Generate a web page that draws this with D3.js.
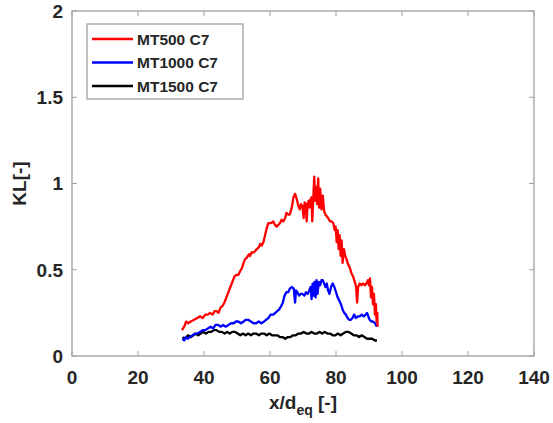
<!DOCTYPE html>
<html>
<head>
<meta charset="utf-8">
<script src="https://cdn.jsdelivr.net/npm/d3@7"></script>
<style>
  body { margin: 0; background: #fff; }
  text { font-family: "Liberation Sans", Arial, sans-serif; font-weight: bold; fill: #262626; }
</style>
</head>
<body>
<div id="chart"></div>
<script>
// series: [x/deq, KL]
const seriesNames = ["MT500 C7", "MT1000 C7", "MT1500 C7"]
const seriesColors = ["#ff0000", "#0000ff", "#000000"]

const mt500 = [
  [33.3,0.15],[34.0,0.17],[34.6,0.20],[35.2,0.19],[36.0,0.20],[37.0,0.21],[38.0,0.22],[38.8,0.23],
  [39.6,0.22],[40.4,0.24],[41.2,0.24],[41.8,0.25],[42.6,0.24],[43.2,0.26],[43.8,0.26],[44.4,0.25],
  [45.0,0.28],[45.6,0.29],[46.2,0.31],[46.8,0.34],[47.4,0.37],[48.0,0.40],[48.6,0.43],[49.2,0.46],
  [49.8,0.47],[50.4,0.47],[50.9,0.49],[51.5,0.51],[52.0,0.54],[52.4,0.56],[53.0,0.57],[53.6,0.59],
  [54.0,0.58],[54.4,0.60],[55.0,0.60],[55.6,0.61],[56.0,0.62],[56.6,0.63],[57.0,0.65],[57.5,0.64],
  [58.0,0.66],[58.5,0.70],[59.0,0.74],[59.5,0.77],[60.2,0.77],[61.0,0.78],[61.5,0.76],[62.0,0.75],
  [62.5,0.76],[63.0,0.77],[63.5,0.79],[64.0,0.78],[64.6,0.80],[65.0,0.83],[65.5,0.82],[66.0,0.82],
  [66.6,0.86],[67.1,0.92],[67.6,0.94],[68.1,0.91],[68.6,0.87],[69.0,0.85],[69.4,0.88],[69.8,0.87],
  [70.2,0.80],[70.5,0.89],[70.9,0.88],[71.1,0.78],[71.4,0.88],[71.7,0.90],[72.0,0.86],[72.3,0.91],
  [72.6,0.92],[72.8,0.78],[73.1,0.90],[73.4,1.04],[73.7,0.90],[74.0,0.98],[74.3,0.88],[74.6,1.03],
  [74.9,0.86],[75.2,0.97],[75.6,0.85],[76.0,0.93],[76.4,0.84],[76.8,0.82],[77.2,0.81],[77.6,0.80],
  [78.2,0.78],[78.7,0.78],[79.2,0.77],[79.6,0.73],[79.9,0.75],[80.2,0.66],[80.5,0.73],[80.8,0.62],
  [81.1,0.70],[81.4,0.58],[81.7,0.67],[82.0,0.54],[82.4,0.62],[82.8,0.58],[83.2,0.56],[83.7,0.53],
  [84.2,0.51],[84.7,0.48],[85.2,0.46],[85.7,0.43],[86.1,0.40],[86.4,0.31],[86.7,0.40],[87.2,0.42],
  [87.7,0.41],[88.2,0.42],[88.8,0.41],[89.2,0.42],[89.7,0.44],[90.0,0.41],[90.3,0.45],[90.6,0.34],
  [90.9,0.40],[91.2,0.30],[91.5,0.36],[91.8,0.24],[92.1,0.30],[92.3,0.20],[92.5,0.25],[92.6,0.17]
]

const mt1000 = [
  [33.5,0.10],[34.0,0.09],[34.5,0.11],[35.0,0.10],[35.8,0.11],[36.5,0.12],[37.2,0.13],[38.0,0.13],
  [38.8,0.14],[39.6,0.15],[40.4,0.15],[41.2,0.16],[42.0,0.17],[42.8,0.16],[43.5,0.18],[44.3,0.18],
  [45.0,0.17],[45.8,0.18],[46.6,0.17],[47.4,0.18],[48.2,0.19],[49.0,0.19],[49.7,0.20],[50.4,0.20],
  [51.2,0.19],[52.0,0.20],[52.7,0.21],[53.4,0.21],[54.2,0.20],[55.0,0.19],[55.8,0.19],[56.6,0.20],
  [57.4,0.19],[58.2,0.20],[58.8,0.21],[59.5,0.22],[60.2,0.24],[61.0,0.24],[61.6,0.25],[62.2,0.26],
  [62.8,0.27],[63.4,0.29],[63.9,0.31],[64.4,0.35],[65.0,0.37],[65.5,0.37],[66.0,0.39],[66.6,0.40],
  [67.2,0.39],[67.6,0.31],[67.9,0.38],[68.3,0.37],[68.8,0.35],[69.3,0.36],[69.8,0.36],[70.4,0.35],
  [70.9,0.37],[71.4,0.36],[71.9,0.38],[72.3,0.40],[72.6,0.33],[72.9,0.42],[73.2,0.35],[73.5,0.43],
  [73.8,0.34],[74.1,0.44],[74.4,0.36],[74.8,0.43],[75.2,0.41],[75.6,0.44],[76.0,0.44],[76.4,0.42],
  [76.8,0.40],[77.2,0.42],[77.6,0.38],[78.0,0.36],[78.5,0.40],[79.0,0.42],[79.5,0.40],[80.0,0.37],
  [80.5,0.34],[81.0,0.32],[81.5,0.30],[82.0,0.27],[82.5,0.25],[83.0,0.24],[83.5,0.22],[84.0,0.21],
  [84.5,0.21],[85.0,0.22],[85.5,0.24],[86.0,0.22],[86.6,0.23],[87.2,0.23],[87.8,0.24],[88.4,0.23],
  [89.0,0.24],[89.4,0.25],[89.8,0.23],[90.2,0.21],[90.7,0.20],[91.2,0.20],[91.8,0.19],[92.4,0.17]
]

const mt1500 = [
  [33.5,0.11],[34.0,0.10],[34.6,0.11],[35.2,0.12],[36.0,0.11],[36.8,0.12],[37.5,0.13],[38.2,0.12],
  [39.0,0.13],[39.8,0.14],[40.6,0.13],[41.4,0.14],[42.2,0.14],[43.0,0.15],[43.8,0.15],[44.6,0.14],
  [45.4,0.14],[46.2,0.13],[47.0,0.14],[47.8,0.13],[48.6,0.14],[49.4,0.14],[50.2,0.13],[51.0,0.12],
  [51.8,0.13],[52.6,0.12],[53.4,0.13],[54.2,0.12],[55.0,0.13],[55.8,0.13],[56.6,0.12],[57.4,0.13],
  [58.2,0.13],[59.0,0.12],[59.8,0.13],[60.6,0.12],[61.4,0.12],[62.2,0.12],[63.0,0.11],[63.8,0.11],
  [64.6,0.10],[65.4,0.11],[66.2,0.11],[67.0,0.12],[67.8,0.12],[68.6,0.13],[69.4,0.13],[70.2,0.14],
  [71.0,0.13],[71.8,0.13],[72.6,0.14],[73.4,0.13],[74.2,0.13],[75.0,0.14],[75.8,0.13],[76.6,0.14],
  [77.4,0.13],[78.2,0.13],[79.0,0.12],[79.8,0.12],[80.6,0.13],[81.4,0.12],[82.2,0.13],[83.0,0.14],
  [83.8,0.14],[84.6,0.13],[85.4,0.12],[86.2,0.12],[87.0,0.11],[87.8,0.12],[88.6,0.11],[89.4,0.10],
  [90.2,0.10],[91.0,0.10],[91.8,0.09],[92.4,0.09]
]

const xTicks = [0, 20, 40, 60, 80, 100, 120, 140]
const yTicks = [0, 0.5, 1, 1.5, 2]

// layout
const W = 553, H = 423
const margin = { left: 72, top: 11, right: 19, bottom: 67 }
const width = W - margin.left - margin.right
const height = H - margin.top - margin.bottom
const axisColor = "#a0a0a0"

const svg = d3.select("#chart").append("svg")
    .attr("width", W)
    .attr("height", H)

const g = svg.append("g")
    .attr("transform", "translate(" + margin.left + "," + margin.top + ")")

const x = d3.scaleLinear().domain([0, 140]).range([0, width])
const y = d3.scaleLinear().domain([0, 2]).range([height, 0])

// box
g.append("rect")
    .attr("width", width)
    .attr("height", height)
    .attr("fill", "none")
    .attr("stroke", axisColor)
    .attr("stroke-width", 1.3)

// ticks on all four sides, pointing in
const tickLen = 5
g.selectAll(".xt").data(xTicks).enter().append("path")
    .attr("d", d => "M" + x(d) + "," + height + "v" + (-tickLen) + "M" + x(d) + ",0v" + tickLen)
    .attr("stroke", axisColor)
g.selectAll(".yt").data(yTicks).enter().append("path")
    .attr("d", d => "M0," + y(d) + "h" + tickLen + "M" + width + "," + y(d) + "h" + (-tickLen))
    .attr("stroke", axisColor)

// tick labels
g.selectAll(".xl").data(xTicks).enter().append("text")
    .attr("x", d => x(d))
    .attr("y", height + 28)
    .attr("text-anchor", "middle")
    .style("font-size", "19px")
    .text(d => d)
g.selectAll(".yl").data(yTicks).enter().append("text")
    .attr("x", -9)
    .attr("y", d => y(d))
    .attr("dy", "0.36em")
    .attr("text-anchor", "end")
    .style("font-size", "19px")
    .text(d => d)

// axis titles
const xt = g.append("text")
    .attr("x", width / 2)
    .attr("y", height + 53)
    .attr("text-anchor", "middle")
    .style("font-size", "19px")
xt.append("tspan").text("x/d")
xt.append("tspan").attr("dy", 6).style("font-size", "14px").text("eq")
xt.append("tspan").attr("dy", -6).text(" [-]")

g.append("text")
    .attr("transform", "translate(-46," + (height / 2) + ") rotate(-90)")
    .attr("text-anchor", "middle")
    .style("font-size", "19px")
    .text("KL[-]")

// lines
const line = d3.line().x(d => x(d[0])).y(d => y(d[1]))
const allSeries = [mt1500, mt1000, mt500]
const allColors = [seriesColors[2], seriesColors[1], seriesColors[0]]
g.selectAll(".series").data(allSeries).enter().append("path")
    .attr("d", line)
    .attr("fill", "none")
    .attr("stroke", (d, i) => allColors[i])
    .attr("stroke-width", 2.3)
    .attr("stroke-linejoin", "round")

// legend
const lg = g.append("g").attr("transform", "translate(15,13)")
lg.append("rect")
    .attr("width", 156)
    .attr("height", 75)
    .attr("fill", "#fff")
    .attr("stroke", axisColor)
    .attr("stroke-width", 1.3)
seriesNames.forEach(function(name, i) {
  const yy = 15 + i * 23.5
  lg.append("line")
      .attr("x1", 5).attr("x2", 46)
      .attr("y1", yy).attr("y2", yy)
      .attr("stroke", seriesColors[i])
      .attr("stroke-width", 2.3)
  lg.append("text")
      .attr("x", 50)
      .attr("y", yy)
      .attr("dy", "0.36em")
      .style("font-size", "15.5px")
      .text(name)
})
</script>
</body>
</html>
